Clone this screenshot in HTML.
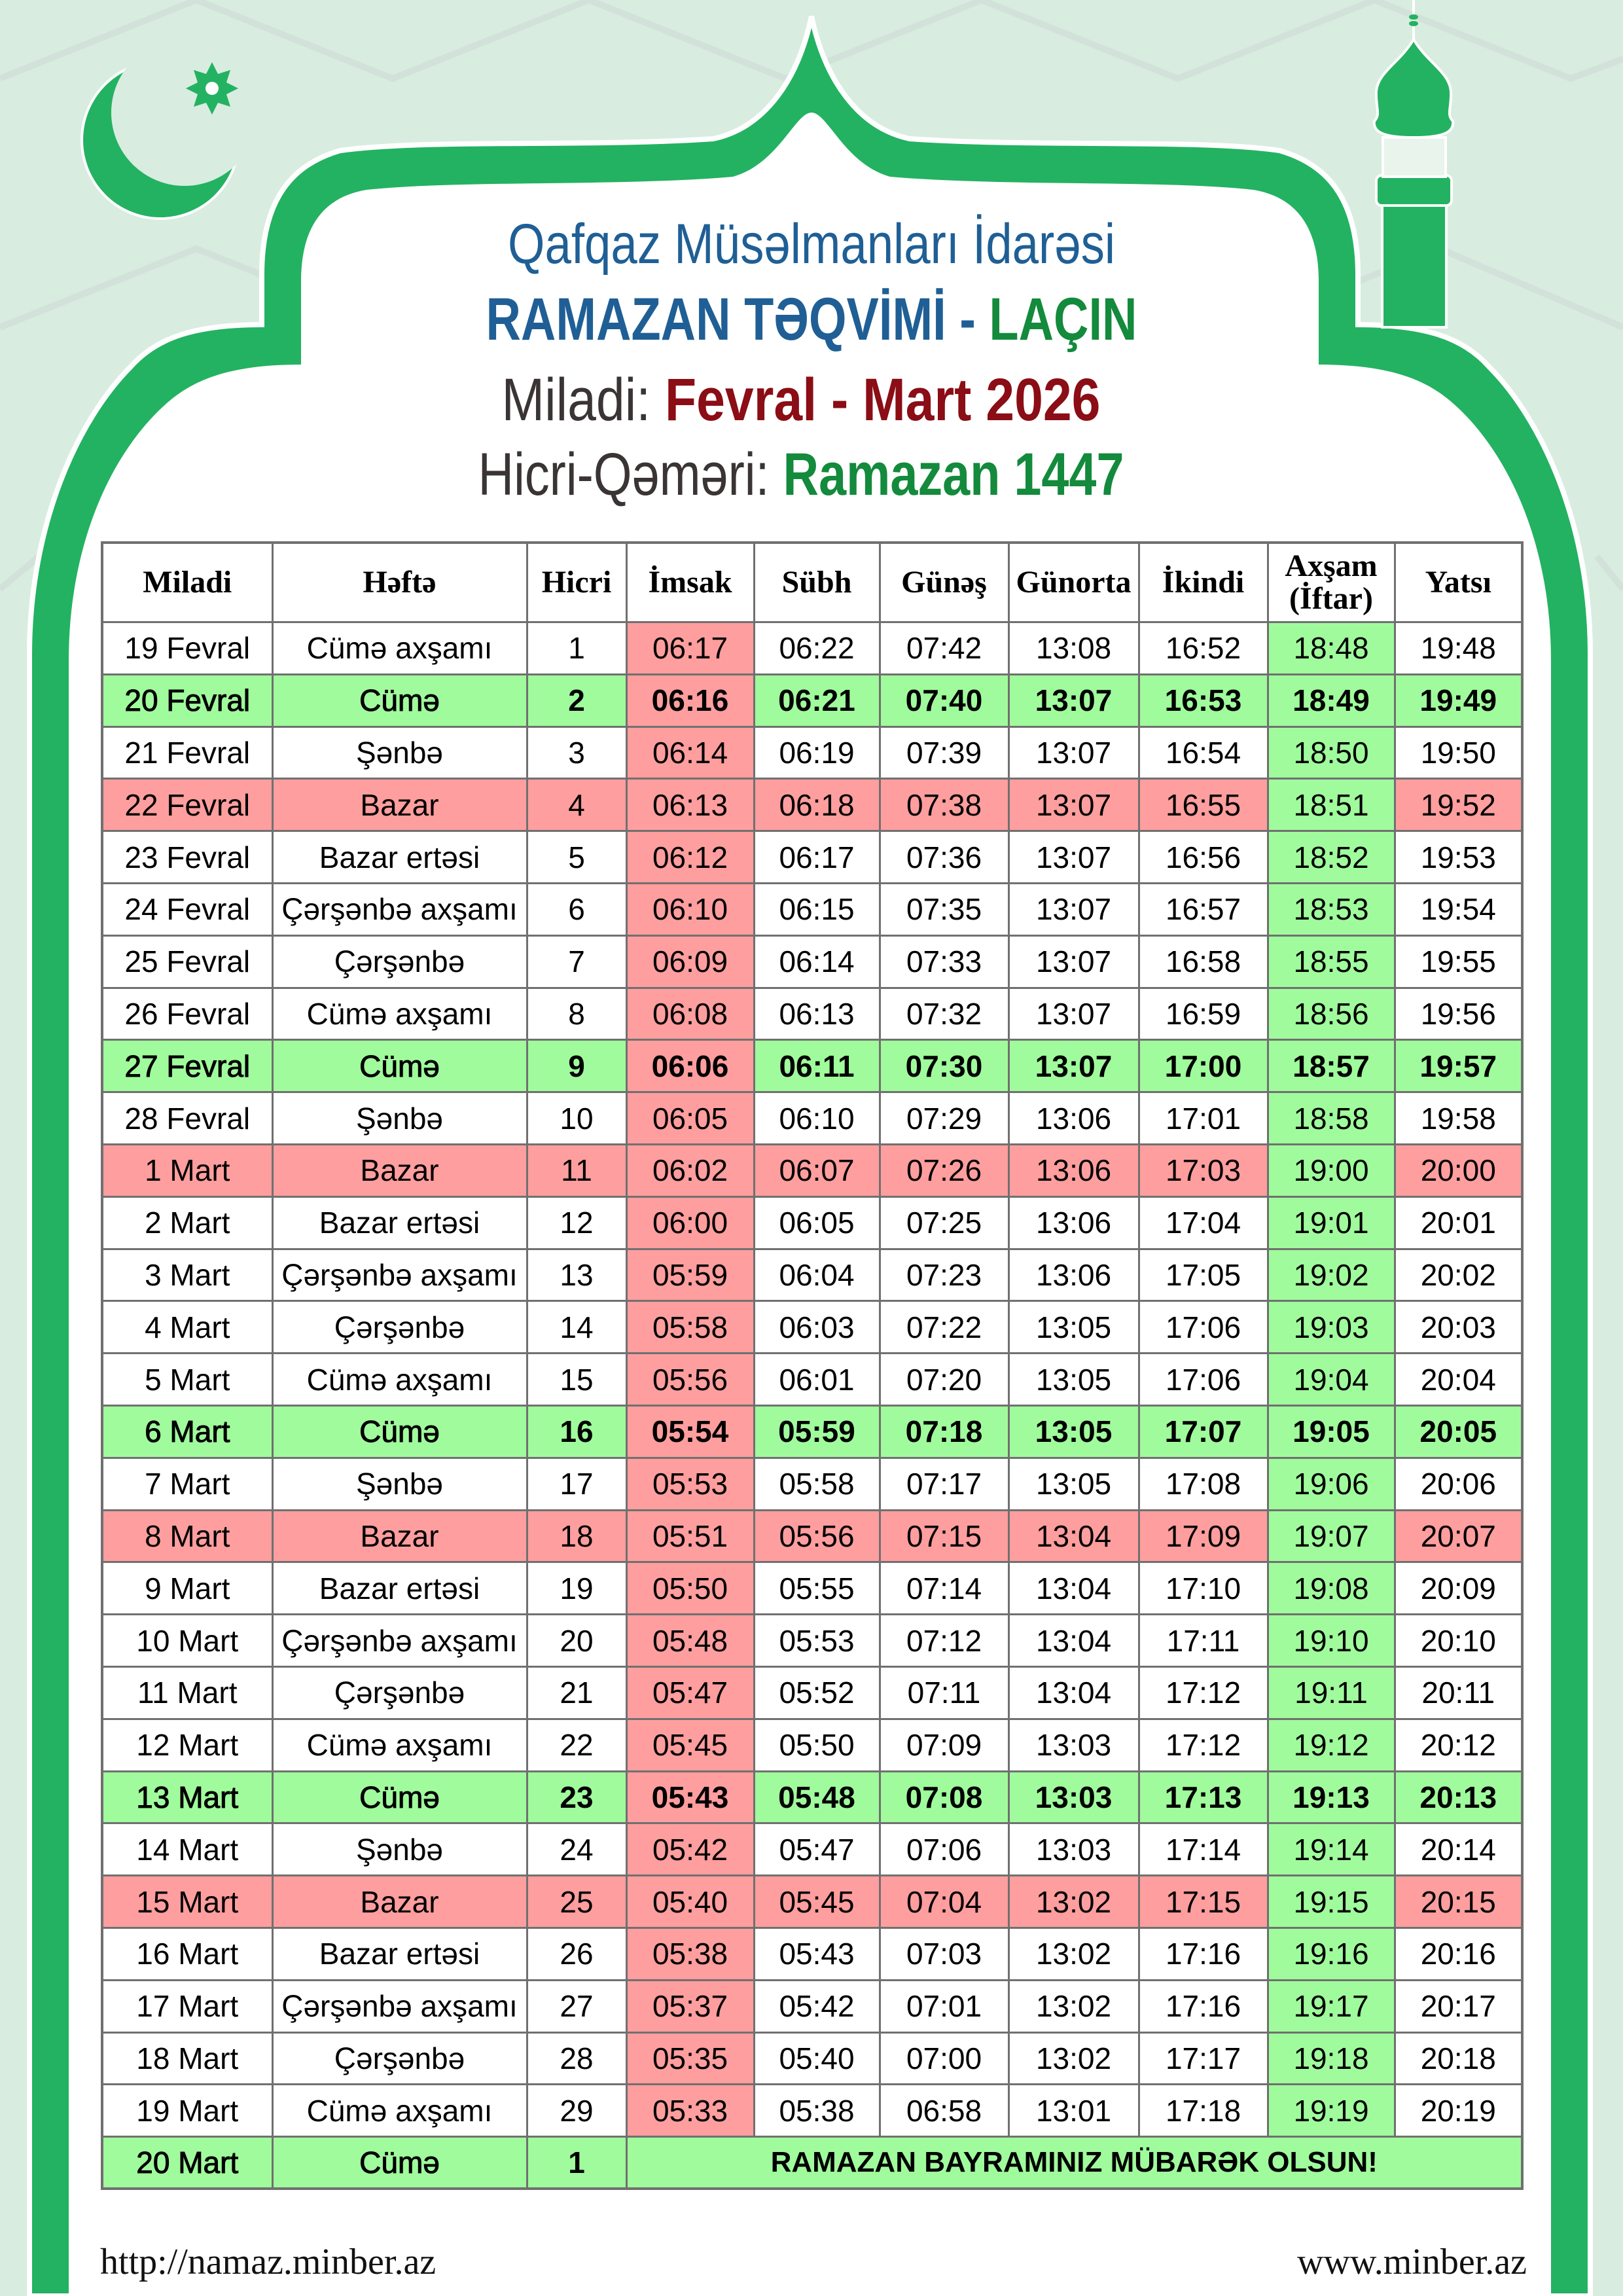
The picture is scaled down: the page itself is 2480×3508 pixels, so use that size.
<!DOCTYPE html>
<html><head><meta charset="utf-8">
<style>
html,body{margin:0;padding:0;}
body{width:2480px;height:3508px;position:relative;overflow:hidden;background:#d9ece0;font-family:"Liberation Sans",sans-serif;}
svg.bg{position:absolute;left:0;top:0;}
table{position:absolute;left:154px;top:827px;width:2170px;border-collapse:collapse;table-layout:fixed;border:4px solid #707070;}
td,th{border:3px solid #707070;text-align:center;padding:0;font-size:46px;color:#000;background:#fff;overflow:hidden;white-space:nowrap;}
th{font-family:"Liberation Serif",serif;font-weight:bold;font-size:48px;height:118px;line-height:50px;}
tr{height:79.8px;}
td{font-weight:normal;}
tr.f td{background:#a0fb9c;}
tr.f td:nth-child(n+3){font-weight:bold;}
tr.f td:nth-child(-n+2){-webkit-text-stroke:1px #000;}
tr.s td{background:#ff9e9e;}
tr td:nth-child(4){background:#ff9e9e;}
tr td:nth-child(9){background:#a0fb9c;}
tr.l td{background:#a0fb9c;}
tr.l td.m{font-weight:bold;font-size:44px;}
.foot{position:absolute;font-family:"Liberation Serif",serif;font-size:56px;color:#111;top:3424px;}
</style></head><body>
<svg class="bg" width="2480" height="3508" viewBox="0 0 2480 3508">
<g stroke="#cfe0d8" stroke-width="10" fill="none" opacity="0.8">
<path d="M0 120 L300 0 L600 120 L900 0 L1200 120 L1500 0 L1800 120 L2100 0 L2400 120 L2480 90"/>
<path d="M0 500 L300 380 L600 500 M1900 500 L2200 380 L2480 500"/>
<path d="M0 900 L60 850 M2440 850 L2480 900"/>
</g>
<path d="M45 3508 L45 1000 C45 800 120 640 200 560 C240 515 300 496 400 496 L400 420 C400 300 450 250 520 230 C650 212 900 225 1090 212 C1170 195 1220 120 1240 25 C1260 120 1310 195 1390 212 C1580 225 1830 212 1955 230 C2025 250 2075 300 2075 420 L2075 496 C2175 496 2235 515 2275 560 C2355 640 2430 800 2430 1000 L2430 3508 Z" fill="#23b261" stroke="#ffffff" stroke-width="8"/>
<path d="M105 3508 L105 1010 C105 830 170 700 240 630 C280 590 330 557 460 557 L460 430 C460 340 500 300 560 290 C700 275 950 285 1120 270 C1190 250 1215 172 1240 172 C1265 172 1290 250 1360 270 C1530 285 1780 275 1915 290 C1975 300 2015 340 2015 430 L2015 557 C2145 557 2195 590 2235 630 C2305 700 2370 830 2370 1010 L2370 3508 Z" fill="#ffffff"/>
<defs><mask id="cm"><rect x="0" y="0" width="600" height="600" fill="#fff"/><circle cx="282" cy="172" r="112" fill="#000"/></mask></defs>
<circle cx="245" cy="214" r="122" fill="#fff" mask="url(#cm)"/>
<circle cx="245" cy="214" r="118" fill="#23b261" mask="url(#cm)"/>
<g transform="translate(324,135)" fill="#23b261">
<polygon points="0,-40 9,-22 28,-28 22,-9 40,0 22,9 28,28 9,22 0,40 -9,22 -28,28 -22,9 -40,0 -22,-9 -28,-28 -9,-22"/>
<circle r="10" fill="#fff"/>
</g>
<g fill="#23b261" stroke="#fff" stroke-width="4">
<rect x="2112" y="300" width="98" height="200"/>
<rect x="2103" y="268" width="115" height="46" rx="8"/>
<rect x="2113" y="210" width="96" height="60" fill="#e8f4ec"/>
<path d="M2160 60 C2140 95 2105 110 2103 140 C2102 165 2110 175 2100 185 C2098 200 2110 210 2160 210 C2210 210 2222 200 2220 185 C2210 175 2218 165 2217 140 C2215 110 2180 95 2160 60 Z"/>
</g>
<line x1="2160" y1="0" x2="2160" y2="60" stroke="#fff" stroke-width="4"/>
<ellipse cx="2160" cy="26" rx="7" ry="4" fill="#23b261"/>
<ellipse cx="2160" cy="36" rx="7" ry="4" fill="#23b261"/>
<text x="1240" y="402" text-anchor="middle" font-family="Liberation Sans" font-size="86" fill="#1f5f95" textLength="928" lengthAdjust="spacingAndGlyphs">Qafqaz Müsəlmanları İdarəsi</text>
<text x="1240" y="519" text-anchor="middle" font-family="Liberation Sans" font-weight="bold" font-size="92" textLength="995" lengthAdjust="spacingAndGlyphs"><tspan fill="#1f5f95">RAMAZAN TƏQVİMİ - </tspan><tspan fill="#138a3c">LAÇIN</tspan></text>
<text x="1224" y="642" text-anchor="middle" font-family="Liberation Sans" font-size="92" textLength="915" lengthAdjust="spacingAndGlyphs"><tspan fill="#3a3434">Miladi: </tspan><tspan fill="#8b0d15" font-weight="bold">Fevral - Mart 2026</tspan></text>
<text x="1224" y="756" text-anchor="middle" font-family="Liberation Sans" font-size="92" textLength="987" lengthAdjust="spacingAndGlyphs"><tspan fill="#3a3434">Hicri-Qəməri: </tspan><tspan fill="#138a3c" font-weight="bold">Ramazan 1447</tspan></text>
</svg>
<table>
<colgroup><col style="width:260px"><col style="width:389px"><col style="width:152px"><col style="width:195px"><col style="width:192px"><col style="width:197px"><col style="width:199px"><col style="width:197px"><col style="width:194px"><col style="width:195px"></colgroup>
<tr><th>Miladi</th><th>Həftə</th><th>Hicri</th><th>İmsak</th><th>Sübh</th><th>Günəş</th><th>Günorta</th><th>İkindi</th><th>Axşam<br>(İftar)</th><th>Yatsı</th></tr>
<tr><td>19 Fevral</td><td>Cümə axşamı</td><td>1</td><td>06:17</td><td>06:22</td><td>07:42</td><td>13:08</td><td>16:52</td><td>18:48</td><td>19:48</td></tr>
<tr class="f"><td>20 Fevral</td><td>Cümə</td><td>2</td><td>06:16</td><td>06:21</td><td>07:40</td><td>13:07</td><td>16:53</td><td>18:49</td><td>19:49</td></tr>
<tr><td>21 Fevral</td><td>Şənbə</td><td>3</td><td>06:14</td><td>06:19</td><td>07:39</td><td>13:07</td><td>16:54</td><td>18:50</td><td>19:50</td></tr>
<tr class="s"><td>22 Fevral</td><td>Bazar</td><td>4</td><td>06:13</td><td>06:18</td><td>07:38</td><td>13:07</td><td>16:55</td><td>18:51</td><td>19:52</td></tr>
<tr><td>23 Fevral</td><td>Bazar ertəsi</td><td>5</td><td>06:12</td><td>06:17</td><td>07:36</td><td>13:07</td><td>16:56</td><td>18:52</td><td>19:53</td></tr>
<tr><td>24 Fevral</td><td>Çərşənbə axşamı</td><td>6</td><td>06:10</td><td>06:15</td><td>07:35</td><td>13:07</td><td>16:57</td><td>18:53</td><td>19:54</td></tr>
<tr><td>25 Fevral</td><td>Çərşənbə</td><td>7</td><td>06:09</td><td>06:14</td><td>07:33</td><td>13:07</td><td>16:58</td><td>18:55</td><td>19:55</td></tr>
<tr><td>26 Fevral</td><td>Cümə axşamı</td><td>8</td><td>06:08</td><td>06:13</td><td>07:32</td><td>13:07</td><td>16:59</td><td>18:56</td><td>19:56</td></tr>
<tr class="f"><td>27 Fevral</td><td>Cümə</td><td>9</td><td>06:06</td><td>06:11</td><td>07:30</td><td>13:07</td><td>17:00</td><td>18:57</td><td>19:57</td></tr>
<tr><td>28 Fevral</td><td>Şənbə</td><td>10</td><td>06:05</td><td>06:10</td><td>07:29</td><td>13:06</td><td>17:01</td><td>18:58</td><td>19:58</td></tr>
<tr class="s"><td>1 Mart</td><td>Bazar</td><td>11</td><td>06:02</td><td>06:07</td><td>07:26</td><td>13:06</td><td>17:03</td><td>19:00</td><td>20:00</td></tr>
<tr><td>2 Mart</td><td>Bazar ertəsi</td><td>12</td><td>06:00</td><td>06:05</td><td>07:25</td><td>13:06</td><td>17:04</td><td>19:01</td><td>20:01</td></tr>
<tr><td>3 Mart</td><td>Çərşənbə axşamı</td><td>13</td><td>05:59</td><td>06:04</td><td>07:23</td><td>13:06</td><td>17:05</td><td>19:02</td><td>20:02</td></tr>
<tr><td>4 Mart</td><td>Çərşənbə</td><td>14</td><td>05:58</td><td>06:03</td><td>07:22</td><td>13:05</td><td>17:06</td><td>19:03</td><td>20:03</td></tr>
<tr><td>5 Mart</td><td>Cümə axşamı</td><td>15</td><td>05:56</td><td>06:01</td><td>07:20</td><td>13:05</td><td>17:06</td><td>19:04</td><td>20:04</td></tr>
<tr class="f"><td>6 Mart</td><td>Cümə</td><td>16</td><td>05:54</td><td>05:59</td><td>07:18</td><td>13:05</td><td>17:07</td><td>19:05</td><td>20:05</td></tr>
<tr><td>7 Mart</td><td>Şənbə</td><td>17</td><td>05:53</td><td>05:58</td><td>07:17</td><td>13:05</td><td>17:08</td><td>19:06</td><td>20:06</td></tr>
<tr class="s"><td>8 Mart</td><td>Bazar</td><td>18</td><td>05:51</td><td>05:56</td><td>07:15</td><td>13:04</td><td>17:09</td><td>19:07</td><td>20:07</td></tr>
<tr><td>9 Mart</td><td>Bazar ertəsi</td><td>19</td><td>05:50</td><td>05:55</td><td>07:14</td><td>13:04</td><td>17:10</td><td>19:08</td><td>20:09</td></tr>
<tr><td>10 Mart</td><td>Çərşənbə axşamı</td><td>20</td><td>05:48</td><td>05:53</td><td>07:12</td><td>13:04</td><td>17:11</td><td>19:10</td><td>20:10</td></tr>
<tr><td>11 Mart</td><td>Çərşənbə</td><td>21</td><td>05:47</td><td>05:52</td><td>07:11</td><td>13:04</td><td>17:12</td><td>19:11</td><td>20:11</td></tr>
<tr><td>12 Mart</td><td>Cümə axşamı</td><td>22</td><td>05:45</td><td>05:50</td><td>07:09</td><td>13:03</td><td>17:12</td><td>19:12</td><td>20:12</td></tr>
<tr class="f"><td>13 Mart</td><td>Cümə</td><td>23</td><td>05:43</td><td>05:48</td><td>07:08</td><td>13:03</td><td>17:13</td><td>19:13</td><td>20:13</td></tr>
<tr><td>14 Mart</td><td>Şənbə</td><td>24</td><td>05:42</td><td>05:47</td><td>07:06</td><td>13:03</td><td>17:14</td><td>19:14</td><td>20:14</td></tr>
<tr class="s"><td>15 Mart</td><td>Bazar</td><td>25</td><td>05:40</td><td>05:45</td><td>07:04</td><td>13:02</td><td>17:15</td><td>19:15</td><td>20:15</td></tr>
<tr><td>16 Mart</td><td>Bazar ertəsi</td><td>26</td><td>05:38</td><td>05:43</td><td>07:03</td><td>13:02</td><td>17:16</td><td>19:16</td><td>20:16</td></tr>
<tr><td>17 Mart</td><td>Çərşənbə axşamı</td><td>27</td><td>05:37</td><td>05:42</td><td>07:01</td><td>13:02</td><td>17:16</td><td>19:17</td><td>20:17</td></tr>
<tr><td>18 Mart</td><td>Çərşənbə</td><td>28</td><td>05:35</td><td>05:40</td><td>07:00</td><td>13:02</td><td>17:17</td><td>19:18</td><td>20:18</td></tr>
<tr><td>19 Mart</td><td>Cümə axşamı</td><td>29</td><td>05:33</td><td>05:38</td><td>06:58</td><td>13:01</td><td>17:18</td><td>19:19</td><td>20:19</td></tr>
<tr class="f l"><td>20 Mart</td><td>Cümə</td><td>1</td><td class="m" colspan="7">RAMAZAN BAYRAMINIZ MÜBARƏK OLSUN!</td></tr>
</table>
<div class="foot" style="left:153px;">http://namaz.minber.az</div>
<div class="foot" style="right:147px;">www.minber.az</div>
</body></html>
